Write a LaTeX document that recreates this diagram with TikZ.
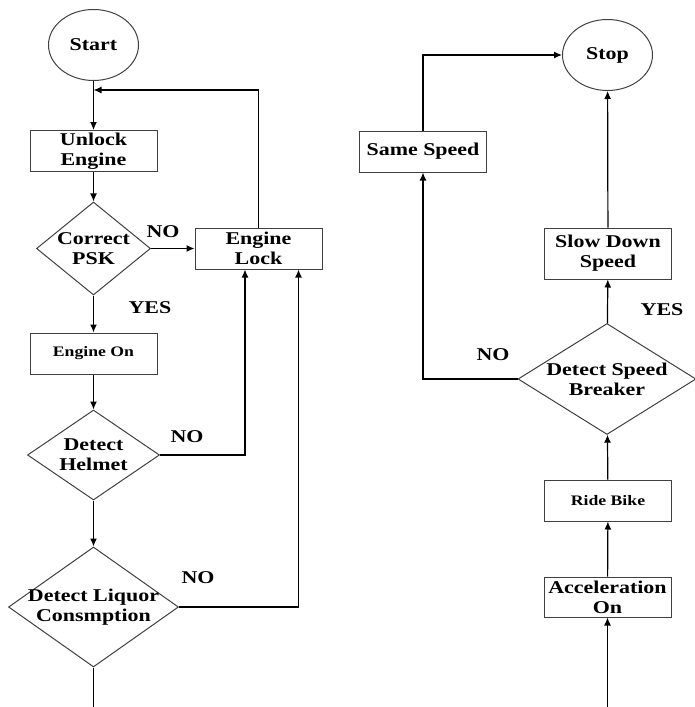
\documentclass[tikz,border=0pt]{standalone}
\usepackage{fontspec}
\newfontfamily\flowfont{Liberation Serif}[FakeStretch=1.22]
\usetikzlibrary{shapes.geometric,arrows.meta}
\newcommand{\bigtxt}{\flowfont\bfseries\fontsize{18}{20}\selectfont}
\newcommand{\smalltxt}{\flowfont\bfseries\fontsize{14.5}{16}\selectfont}
\tikzset{
   flowbox/.style={draw=black!75,line width=1pt,minimum width=127pt,minimum height=41pt,inner sep=0pt,align=center,font=\bigtxt},
   flowend/.style={draw=black!75,line width=1pt,ellipse,minimum width=90pt,minimum height=71pt,inner sep=0pt,font=\bigtxt},
   flowtest/.style={draw=black!75,line width=1pt,diamond,inner sep=0pt},
   flowtext/.style={align=center,font=\bigtxt,inner sep=0pt},
   answer/.style={font=\bigtxt,inner sep=0pt},
   flowline/.style={line width=1.2pt,-{Latex[length=8pt,width=7pt]}}
}

\begin{document}
\begin{tikzpicture}[x=1pt,y=-1pt]
   \useasboundingbox (0,0) rectangle (694,707);
   \node[flowend] (start) at (93.5,45) {Start};
   \node[flowbox] (unlock) at (93.5,151) {Unlock\\Engine};
   \node[flowtest,minimum width=114pt,minimum height=93pt] (psk) at (93.5,248.5) {};
   \node[flowtext] (psktxt) at (psk) {Correct\\PSK};
   \node[flowbox] (enginelock) at (258.5,248.5) {Engine\\Lock};
   \node[flowbox,font=\smalltxt] (engineon) at (93.5,353.5) {Engine On};
   \node[flowtest,minimum width=132pt,minimum height=90pt] (helmet) at (93.5,455) {};
   \node[flowtext] (helmettxt) at (helmet) {Detect\\Helmet};
   \node[flowtest,minimum width=170pt,minimum height=120pt] (liquor) at (93.5,607) {};
   \node[flowtext] (liquortxt) at (liquor) {Detect Liquor\\Consmption};
   \node[flowend] (stop) at (607.5,55) {Stop};
   \node[flowbox] (samespeed) at (423,151.5) {Same Speed};
   \node[flowbox,minimum height=51pt] (slowdown) at (608,253.5) {Slow Down\\Speed};
   \node[flowtest,minimum width=178pt,minimum height=111pt] (breaker) at (607,379) {};
   \node[flowtext] (breakertxt) at (breaker) {Detect Speed\\Breaker};
   \node[flowbox,font=\smalltxt] (ridebike) at (608,500.5) {Ride Bike};
   \node[flowbox,minimum height=40pt] (accel) at (607.5,597) {Acceleration\\On};
   \node[answer] (pskno) at (163,232) {NO};
   \node[answer] (pskyes) at (150,308) {YES};
   \node[answer] (helmetno) at (187,437) {NO};
   \node[answer] (liquorno) at (198,578) {NO};
   \node[answer] (breakeryes) at (662,310) {YES};
   \node[answer] (breakerno) at (493,355) {NO};
   \coordinate (leftend) at (93.5,707);
   \coordinate (rightend) at (607.5,707);
   \draw[flowline] (start) -- (unlock);
   \draw[flowline] (enginelock.north) |- (93.5,90);
   \draw[flowline] (unlock) -- (psk);
   \draw[flowline] (psk) -- (enginelock);
   \draw[flowline] (psk) -- (engineon);
   \draw[flowline] (engineon) -- (helmet);
   \draw[flowline] (helmet) -- (liquor);
   \draw[flowline] (helmet.east) -| ([xshift=-13.5pt]enginelock.south);
   \draw[flowline] (liquor.east) -| ([xshift=40pt]enginelock.south);
   \draw[line width=1.2pt] (liquor.south) -- (leftend);
   \draw[flowline] (rightend) -- (accel);
   \draw[flowline] (accel) -- (ridebike);
   \draw[flowline] (ridebike) -- (breaker);
   \draw[flowline] (breaker) -- (slowdown);
   \draw[flowline] (slowdown) -- (stop);
   \draw[flowline] (breaker.west) -| (samespeed.south);
   \draw[flowline] (samespeed.north) |- (stop.west);
  \end{tikzpicture}
\end{document}
